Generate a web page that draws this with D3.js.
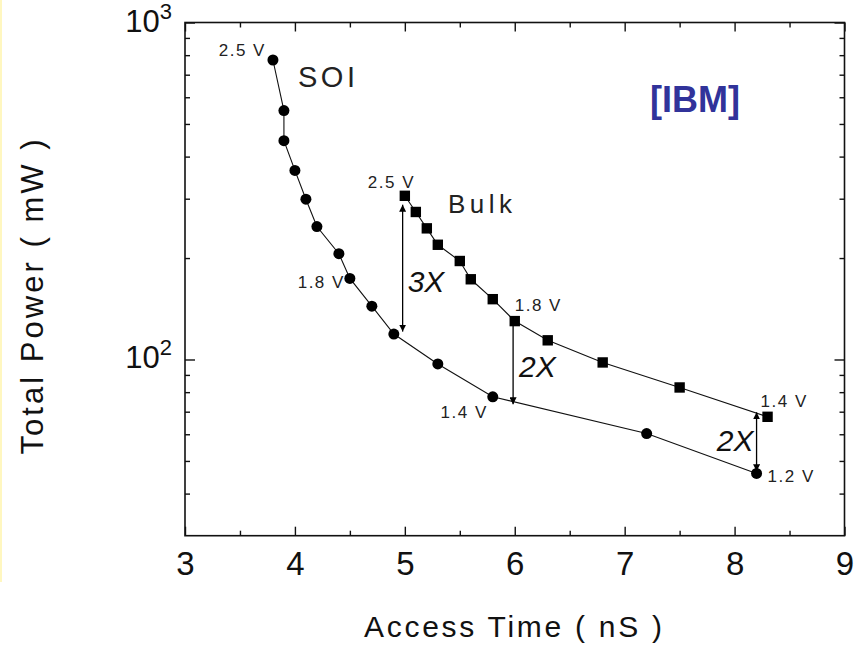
<!DOCTYPE html>
<html>
<head>
<meta charset="utf-8">
<script src="https://cdn.jsdelivr.net/npm/d3@7"></script>
<style>
  body { margin: 0; background: #fff; }
  svg { display: block; font-family: "Liberation Sans", Arial, sans-serif; }
</style>
</head>
<body>
<svg id="chart"></svg>
<script>
var screen = {width: 855, height: 645}
var margins = {top: 22.5, right: 10.5, bottom: 109.3, left: 185}

// SOI series (circles)
var soiTime  = [3.8, 3.9, 3.9, 4.0, 4.1, 4.2, 4.4, 4.5, 4.7, 4.9, 5.3, 5.8, 7.2, 8.2]
var soiPower = [774, 548, 446, 364, 299, 248, 206, 174, 144, 119, 97, 77.5, 60.3, 45.9]

// Bulk series (squares)
var bulkTime  = [5.0, 5.1, 5.2, 5.3, 5.5, 5.6, 5.8, 6.0, 6.3, 6.8, 7.5, 8.3]
var bulkPower = [306, 274, 245, 219, 196, 173, 151, 130, 114, 98, 82.6, 67.6]

// ratio arrows
var arrowTime   = [4.98, 5.985, 8.2]
var arrowTop    = [288, 133, 69.7]
var arrowBottom = [121, 73.6, 46.6]
var arrowText   = ["3X", "2X", "2X"]

// supply voltage labels
var voltText = ["2.5 V", "1.8 V", "1.4 V", "1.2 V", "2.5 V", "1.8 V", "1.4 V"]

// ticks
var xTicks = [3, 4, 5, 6, 7, 8, 9]
var xMinor = [3.5, 4.5, 5.5, 6.5, 7.5, 8.5]
var yTicks = [100, 1000]
var yTickText = ["2", "3"]
var yMinor = [40, 50, 60, 70, 80, 90, 200, 300, 400, 500, 600, 700, 800, 900]

var svg = d3.select("svg")
    .attr("width", screen.width)
    .attr("height", screen.height)

var width = screen.width - margins.left - margins.right
var height = screen.height - margins.top - margins.bottom

var xScale = d3.scaleLinear().domain([3, 9]).range([0, width])
var yScale = d3.scaleLog().domain([30, 1000]).range([height, 0])

// faint yellow strip on the left edge
svg.append("rect").attr("x", 0).attr("y", 0).attr("width", 2).attr("height", 582).attr("fill", "#fff7c0")

var g = svg.append("g").attr("transform", "translate(" + margins.left + "," + margins.top + ")")

// frame axes, ticks pointing inwards
var axisStyle = function(sel) {
    sel.select(".domain").remove()
    sel.selectAll("line").attr("stroke", "#111").attr("stroke-width", 1.4)
}
g.append("g").attr("transform", "translate(0," + height + ")")
    .call(d3.axisBottom(xScale).tickValues(xTicks).tickSize(-9).tickPadding(16).tickFormat(d3.format("d")))
    .call(axisStyle)
    .selectAll("text").attr("font-size", 33).attr("fill", "#111").attr("font-family", "Liberation Sans, Arial, sans-serif")
g.append("g").attr("transform", "translate(0," + height + ")")
    .call(d3.axisBottom(xScale).tickValues(xMinor).tickSize(-5).tickFormat(""))
    .call(axisStyle)
g.append("g")
    .call(d3.axisTop(xScale).tickValues(xTicks).tickSize(-9).tickFormat(""))
    .call(axisStyle)
g.append("g")
    .call(d3.axisTop(xScale).tickValues(xMinor).tickSize(-5).tickFormat(""))
    .call(axisStyle)
g.append("g")
    .call(d3.axisLeft(yScale).tickValues(yTicks).tickSize(-10).tickFormat(""))
    .call(axisStyle)
g.append("g")
    .call(d3.axisLeft(yScale).tickValues(yMinor).tickSize(-5).tickFormat(""))
    .call(axisStyle)
g.append("g").attr("transform", "translate(" + width + ",0)")
    .call(d3.axisRight(yScale).tickValues(yTicks).tickSize(-10).tickFormat(""))
    .call(axisStyle)
g.append("g").attr("transform", "translate(" + width + ",0)")
    .call(d3.axisRight(yScale).tickValues(yMinor).tickSize(-5).tickFormat(""))
    .call(axisStyle)

g.append("rect")
    .attr("x", 0).attr("y", 0)
    .attr("width", width).attr("height", height)
    .attr("fill", "none").attr("stroke", "#111").attr("stroke-width", 1.6)

// 10^n labels
var yLab = g.selectAll(".ylab").data(yTicks).enter().append("text")
    .attr("class", "ylab")
    .attr("x", -13)
    .attr("y", function(d) { return yScale(d) + 9 })
    .attr("text-anchor", "end")
    .attr("fill", "#111")
yLab.append("tspan").attr("font-size", 31).text("10")
yLab.append("tspan").attr("font-size", 22).attr("dy", -13).text(function(d, i) { return yTickText[i] })

// axis titles
svg.append("text")
    .attr("x", 513).attr("y", 637)
    .attr("text-anchor", "middle")
    .attr("font-size", 30)
    .attr("textLength", 298)
    .attr("fill", "#111")
    .text("Access Time ( nS )")
svg.append("text")
    .attr("transform", "translate(43,297) rotate(-90)")
    .attr("text-anchor", "middle")
    .attr("font-size", 31)
    .attr("textLength", 315)
    .attr("fill", "#111")
    .text("Total Power ( mW )")

// series lines
var soi = soiTime.map(function(t, i) { return [t, soiPower[i]] })
var bulk = bulkTime.map(function(t, i) { return [t, bulkPower[i]] })
var line = d3.line()
    .x(function(d) { return xScale(d[0]) })
    .y(function(d) { return yScale(d[1]) })

g.append("path").datum(soi).attr("d", line)
    .attr("fill", "none").attr("stroke", "#111").attr("stroke-width", 1.1)
g.append("path").datum(bulk).attr("d", line)
    .attr("fill", "none").attr("stroke", "#111").attr("stroke-width", 1.1)

g.selectAll(".soi").data(soi).enter().append("circle")
    .attr("class", "soi")
    .attr("cx", function(d) { return xScale(d[0]) })
    .attr("cy", function(d) { return yScale(d[1]) })
    .attr("r", 5.5)
    .attr("fill", "#000")

g.selectAll(".bulk").data(bulk).enter().append("rect")
    .attr("class", "bulk")
    .attr("x", function(d) { return xScale(d[0]) - 5.2 })
    .attr("y", function(d) { return yScale(d[1]) - 5.2 })
    .attr("width", 10.4).attr("height", 10.4)
    .attr("fill", "#000")

// double headed arrows
var defs = svg.append("defs")
defs.append("marker").attr("id", "head")
    .attr("viewBox", "0 0 10 10").attr("refX", 10).attr("refY", 5)
    .attr("markerWidth", 7).attr("markerHeight", 7).attr("markerUnits", "userSpaceOnUse")
    .attr("orient", "auto-start-reverse")
    .append("path").attr("d", "M0,0 L10,5 L0,10 z").attr("fill", "#000")

arrowTime.forEach(function(t, i) {
    g.append("line")
        .attr("x1", xScale(t)).attr("x2", xScale(t))
        .attr("y1", yScale(arrowTop[i])).attr("y2", yScale(arrowBottom[i]))
        .attr("stroke", "#000").attr("stroke-width", 1.3)
        .attr("marker-start", "url(#head)")
        .attr("marker-end", "url(#head)")
})

var arrowDx = [5, 6, -3]
var arrowDy = [24, 16, 9]
g.selectAll(".ratio").data(arrowText).enter().append("text")
    .attr("class", "ratio")
    .attr("x", function(d, i) { return xScale(arrowTime[i]) + arrowDx[i] })
    .attr("y", function(d, i) {
        var mid = (yScale(arrowTop[i]) + yScale(arrowBottom[i])) / 2
        return mid + arrowDy[i]
    })
    .attr("text-anchor", function(d, i) { return arrowDx[i] < 0 ? "end" : "start" })
    .attr("font-size", 30)
    .attr("font-style", "italic")
    .attr("fill", "#111")
    .text(function(d) { return d })

// voltage labels: which series point, offsets
var voltPoint = [soi[0], soi[7], soi[11], soi[13], bulk[0], bulk[7], bulk[11]]
var voltDx = [-7, -5, -5, 11, -37, 0, -7]
var voltDy = [-4, 10, 21, 9, -8, -10, -10]
var voltAnchor = ["end", "end", "end", "start", "start", "start", "start"]
g.selectAll(".volt").data(voltText).enter().append("text")
    .attr("class", "volt")
    .attr("x", function(d, i) { return xScale(voltPoint[i][0]) + voltDx[i] })
    .attr("y", function(d, i) { return yScale(voltPoint[i][1]) + voltDy[i] })
    .attr("text-anchor", function(d, i) { return voltAnchor[i] })
    .attr("font-size", 17)
    .attr("letter-spacing", 1.5)
    .attr("fill", "#222")
    .text(function(d) { return d })

// series names and source
svg.append("text").attr("x", 298).attr("y", 87)
    .attr("font-size", 29).attr("letter-spacing", 3.5).attr("fill", "#222").text("SOI")
svg.append("text").attr("x", 448).attr("y", 213)
    .attr("font-size", 26).attr("letter-spacing", 4.5).attr("fill", "#222").text("Bulk")
svg.append("text").attr("x", 650).attr("y", 112)
    .attr("font-size", 36).attr("font-weight", "bold").attr("fill", "#31339a").text("[IBM]")
</script>
</body>
</html>
